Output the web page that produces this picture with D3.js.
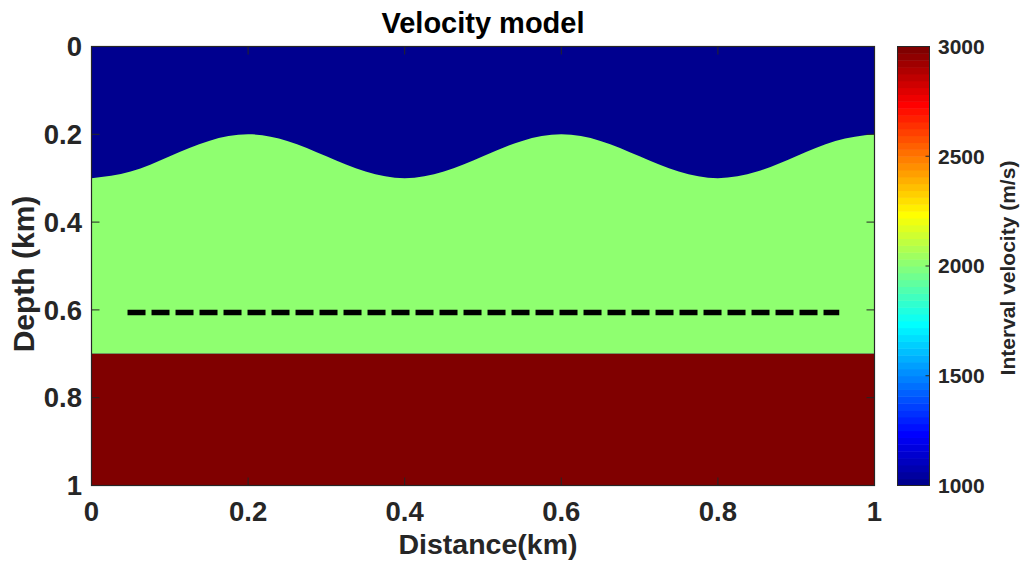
<!DOCTYPE html>
<html>
<head>
<meta charset="utf-8">
<script src="https://cdn.jsdelivr.net/npm/d3@7"></script>
<style>
  html, body { margin: 0; padding: 0; background: #fff; }
  svg { display: block; }
  text { font-family: "Liberation Sans", Arial, Helvetica, sans-serif; font-weight: bold; }
</style>
</head>
<body>
<svg id="chart" width="1022" height="565"></svg>
<script>
// ---- model data (km, m/s) ----
const interfaceX     = [0, 0.05, 0.1, 0.15, 0.2, 0.25, 0.3, 0.35, 0.4, 0.45, 0.5, 0.55, 0.6, 0.65, 0.7, 0.75, 0.8, 0.85, 0.9, 0.95, 1.0];
const interfaceDepth = [0.300, 0.285, 0.250, 0.215, 0.200, 0.215, 0.250, 0.285, 0.300, 0.285, 0.250, 0.215, 0.200, 0.215, 0.250, 0.285, 0.300, 0.285, 0.250, 0.215, 0.200];
const layerVelocity  = [1000, 2000, 3000];   // top, middle, bottom layers
const flatInterfaceDepth = 0.7;
const receiverX      = [0.046, 0.955];        // extent of dashed receiver line
const receiverDepth  = 0.606;
const xTicks         = [0, 0.2, 0.4, 0.6, 0.8, 1];
const yTicks         = [0, 0.2, 0.4, 0.6, 0.8, 1];
const cbTicks        = [1000, 1500, 2000, 2500, 3000];
const velRange       = [1000, 3000];

// ---- MATLAB-style jet colormap ----
function jet(m) {
  const n = Math.ceil(m / 4);
  const u = [];
  for (let i = 1; i <= n; i++) u.push(i / n);
  for (let i = 1; i < n; i++) u.push(1);
  for (let i = n; i >= 1; i--) u.push(i / n);
  const g0 = Math.ceil(n / 2) - (m % 4 === 1 ? 1 : 0);
  const cmap = d3.range(m).map(() => [0, 0, 0]);
  u.forEach((val, k) => {
    const g = g0 + k + 1, r = g + n, b = g - n;
    if (r >= 1 && r <= m) cmap[r - 1][0] = val;
    if (g >= 1 && g <= m) cmap[g - 1][1] = val;
    if (b >= 1 && b <= m) cmap[b - 1][2] = val;
  });
  return cmap.map(c => d3.rgb(c[0] * 255, c[1] * 255, c[2] * 255).formatHex());
}
const jetColors = jet(64);
const colorOf = v => {
  const idx = Math.min(63, Math.max(0, Math.floor((v - velRange[0]) / (velRange[1] - velRange[0]) * 64)));
  return jetColors[idx];
};

// ---- layout ----
const svg = d3.select("#chart");
const plot = { left: 91.5, top: 46.5, right: 874.5, bottom: 485.5 };
const cb = { left: 897.5, right: 929.5, top: 46.5, bottom: 485.5 };
const axisColor = "#262626";

const x = d3.scaleLinear().domain([0, 1]).range([plot.left, plot.right]);
const y = d3.scaleLinear().domain([0, 1]).range([plot.top, plot.bottom]);

svg.append("defs").append("clipPath").attr("id", "plotClip")
  .append("rect").attr("x", plot.left).attr("y", plot.top)
  .attr("width", plot.right - plot.left).attr("height", plot.bottom - plot.top);

const field = svg.append("g").attr("clip-path", "url(#plotClip)");

// top layer
field.append("rect")
  .attr("x", x(0)).attr("y", y(0))
  .attr("width", x(1) - x(0)).attr("height", y(1) - y(0))
  .attr("fill", colorOf(layerVelocity[0]));

// middle layer, bounded above by the undulating interface
const interfacePts = interfaceX.map((d, i) => [d, interfaceDepth[i]]);
const middleArea = d3.area()
  .x(d => x(d[0]))
  .y0(() => y(flatInterfaceDepth))
  .y1(d => y(d[1]))
  .curve(d3.curveNatural);
field.append("path")
  .datum(interfacePts)
  .attr("d", middleArea)
  .attr("fill", colorOf(layerVelocity[1]));

// bottom layer
field.append("rect")
  .attr("x", x(0)).attr("y", y(flatInterfaceDepth))
  .attr("width", x(1) - x(0)).attr("height", y(1) - y(flatInterfaceDepth))
  .attr("fill", colorOf(layerVelocity[2]));

// receiver line
field.append("line")
  .attr("x1", x(receiverX[0])).attr("x2", x(receiverX[1]))
  .attr("y1", y(receiverDepth)).attr("y2", y(receiverDepth))
  .attr("stroke", "#000").attr("stroke-width", 5.5)
  .attr("stroke-dasharray", "18 6");

// ---- axes (inward ticks, box) ----
const tickLen = 8;
const axG = svg.append("g");
xTicks.forEach(t => {
  axG.append("line").attr("x1", x(t)).attr("x2", x(t)).attr("y1", plot.bottom).attr("y2", plot.bottom - tickLen)
    .attr("stroke", axisColor).attr("stroke-width", 1);
  axG.append("line").attr("x1", x(t)).attr("x2", x(t)).attr("y1", plot.top).attr("y2", plot.top + tickLen)
    .attr("stroke", axisColor).attr("stroke-width", 1);
  axG.append("text").attr("x", x(t)).attr("y", 521)
    .attr("text-anchor", "middle").attr("font-size", 27.5).attr("fill", axisColor)
    .text(d3.format("")(t));
});
yTicks.forEach(t => {
  axG.append("line").attr("x1", plot.left).attr("x2", plot.left + tickLen).attr("y1", y(t)).attr("y2", y(t))
    .attr("stroke", axisColor).attr("stroke-width", 1);
  axG.append("line").attr("x1", plot.right).attr("x2", plot.right - tickLen).attr("y1", y(t)).attr("y2", y(t))
    .attr("stroke", axisColor).attr("stroke-width", 1);
  axG.append("text").attr("x", 82).attr("y", y(t)).attr("dy", "0.35em")
    .attr("text-anchor", "end").attr("font-size", 27.5).attr("fill", axisColor)
    .text(d3.format("")(t));
});
axG.append("rect")
  .attr("x", plot.left).attr("y", plot.top)
  .attr("width", plot.right - plot.left).attr("height", plot.bottom - plot.top)
  .attr("fill", "none").attr("stroke", axisColor).attr("stroke-width", 1.2);

// titles
svg.append("text").attr("x", 483).attr("y", 33)
  .attr("text-anchor", "middle").attr("font-size", 29).attr("fill", "#000")
  .text("Velocity model");
svg.append("text").attr("x", 488).attr("y", 554)
  .attr("text-anchor", "middle").attr("font-size", 28.5).attr("fill", axisColor)
  .text("Distance(km)");
svg.append("text")
  .attr("transform", "translate(34, 274) rotate(-90)")
  .attr("text-anchor", "middle").attr("font-size", 30).attr("fill", axisColor)
  .text("Depth (km)");

// ---- colorbar ----
const cy = d3.scaleLinear().domain(velRange).range([cb.bottom, cb.top]);
const cbG = svg.append("g");
const step = (velRange[1] - velRange[0]) / jetColors.length;
cbG.selectAll("rect.band").data(jetColors).join("rect")
  .attr("class", "band")
  .attr("x", cb.left)
  .attr("y", (d, i) => cy(velRange[0] + (i + 1) * step))
  .attr("width", cb.right - cb.left)
  .attr("height", (d, i) => cy(velRange[0] + i * step) - cy(velRange[0] + (i + 1) * step) + 0.5)
  .attr("fill", d => d);
cbTicks.forEach(t => {
  cbG.append("line").attr("x1", cb.right).attr("x2", cb.right - 4).attr("y1", cy(t)).attr("y2", cy(t))
    .attr("stroke", axisColor).attr("stroke-width", 1);
  cbG.append("text").attr("x", 938).attr("y", cy(t)).attr("dy", "0.35em")
    .attr("text-anchor", "start").attr("font-size", 21).attr("fill", axisColor)
    .text(t);
});
cbG.append("rect")
  .attr("x", cb.left).attr("y", cb.top)
  .attr("width", cb.right - cb.left).attr("height", cb.bottom - cb.top)
  .attr("fill", "none").attr("stroke", axisColor).attr("stroke-width", 1);
svg.append("text")
  .attr("transform", "translate(1015, 268) rotate(-90)")
  .attr("text-anchor", "middle").attr("font-size", 21).attr("fill", axisColor)
  .text("Interval velocity (m/s)");
</script>
</body>
</html>
